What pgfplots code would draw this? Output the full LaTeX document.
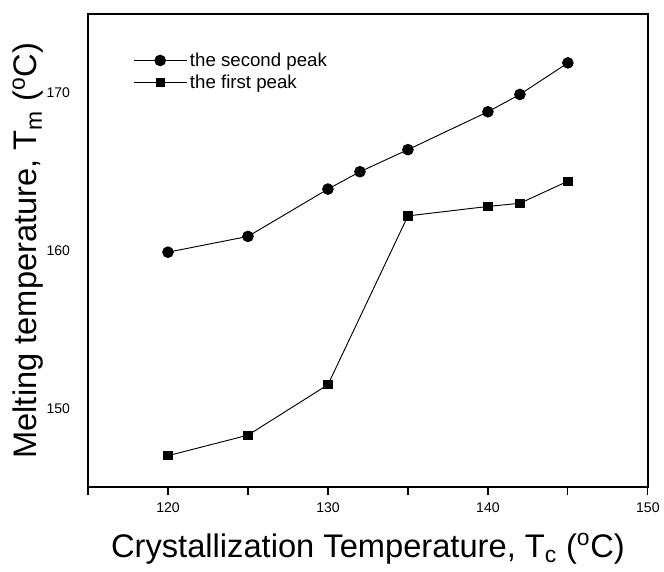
\documentclass[border=0pt]{standalone}
\usepackage{pgfplots}
\pgfplotsset{compat=1.18}
\usepackage{fontspec}
\setmainfont{Liberation Sans}
\begin{document}
\begin{tikzpicture}
\begin{axis}[name=ax,
    width=420pt, height=355pt, scale only axis,
    xmin=115, xmax=150, ymin=145, ymax=175,
    xtick={115,120,...,150}, xticklabels={,120,,130,,140,,150},
    ytick={150,160,170},
    tick align=outside, xtick pos=bottom, ytick pos=left,
    major tick length=6pt,
    x tick style={line width=0.9pt, black},
    y tick style={draw=none},
    axis line style={line width=1.5pt},
    ticklabel style={font=\fontsize{10.5}{12}\selectfont},
    /pgf/number format/assume math mode=true,
    xticklabel style={yshift=-2pt},
    yticklabel style={xshift=-4pt},
    xlabel={Crystallization Temperature, T\textsubscript{c} (\textsuperscript{o}C)},
    ylabel={Melting temperature, T\textsubscript{m} (\textsuperscript{o}C)},
    label style={font=\fontsize{24.5}{27}\selectfont, inner sep=0pt},
    xlabel style={at={(rel axis cs:0.5,0)}, anchor=north, yshift=-34pt},
    ylabel style={at={(rel axis cs:0,0.5)}, anchor=south, yshift=33pt},
    legend style={draw=none, fill=none, at={(0.08,0.93)}, anchor=north west,
        inner xsep=0pt, font=\fontsize{14}{16}\selectfont, row sep=1pt},
    legend cell align=left,
    legend image code/.code={
        \draw[mark repeat=2, mark phase=2] plot coordinates {(0pt,0pt) (20pt,0pt) (40pt,0pt)};},
    every axis plot/.append style={black, line width=0.7pt}]
\addplot[mark=*, mark size=4pt] coordinates {
    (120,159.9) (125,160.9) (130,163.9) (132,165.0)
    (135,166.4) (140,168.8) (142,169.9) (145,171.9)};
\addlegendentry{the second peak}
\addplot[mark=square*, mark size=3.1pt] coordinates {
    (120,147.0) (125,148.3) (130,151.5) (135,162.2)
    (140,162.8) (142,163.0) (145,164.4)};
\addlegendentry{the first peak}
\end{axis}
% page margins as in the reference
\path (ax.south west) ++(-66pt,-63pt);
\path (ax.north east) ++(12pt,10.5pt);
\end{tikzpicture}
\end{document}
